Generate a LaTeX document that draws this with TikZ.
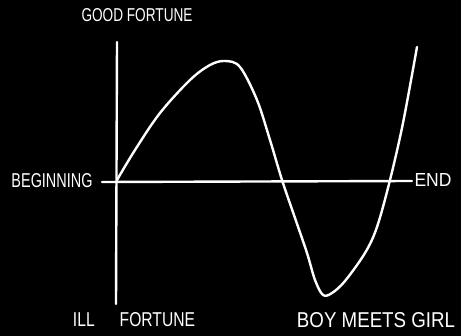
\documentclass[tikz,border=0pt]{standalone}
\usepackage{fontspec}
\setmainfont{Liberation Sans}
\begin{document}
\begin{tikzpicture}[x=1pt,y=-1pt,line cap=round,line join=round,
  ax/.style={white,line width=2.4pt},
  lbl/.style={text=white,inner sep=0pt,font=\fontsize{15}{15}\selectfont}]
\fill[black] (0,0) rectangle (461,336);
\useasboundingbox (0,0) rectangle (461,336);
\coordinate (vtop) at (117,42);
\coordinate (vbot) at (116,304);
\coordinate (hl) at (102,182);
\coordinate (hr) at (412,181);
\draw[ax] (vtop) -- (vbot);
\draw[ax] (hl) -- (hr);
\draw[ax] plot[smooth,tension=0.55] coordinates {(117,180) (135,150) (160,113) (190,80) (210,65) (225,61) (240,67) (257,100) (270,140) (282,180) (295,218) (307,253) (315,280) (323,295) (332,293) (345,281) (365,253) (377,227) (390,180) (403,123) (417,47)};
\node[lbl] (good) at (137,15) {\resizebox{111pt}{13pt}{GOOD FORTUNE}};
\node[lbl] (beg) at (52,181) {\resizebox{81pt}{14pt}{BEGINNING}};
\node[lbl] (end) at (433,180) {\resizebox{37pt}{13pt}{END}};
\node[lbl] (ill) at (134,320) {\resizebox{122pt}{14pt}{ILL\hspace{1.6em}FORTUNE}};
\node[lbl] (boy) at (376,320) {\resizebox{158pt}{15pt}{BOY MEETS GIRL}};
\end{tikzpicture}
\end{document}
